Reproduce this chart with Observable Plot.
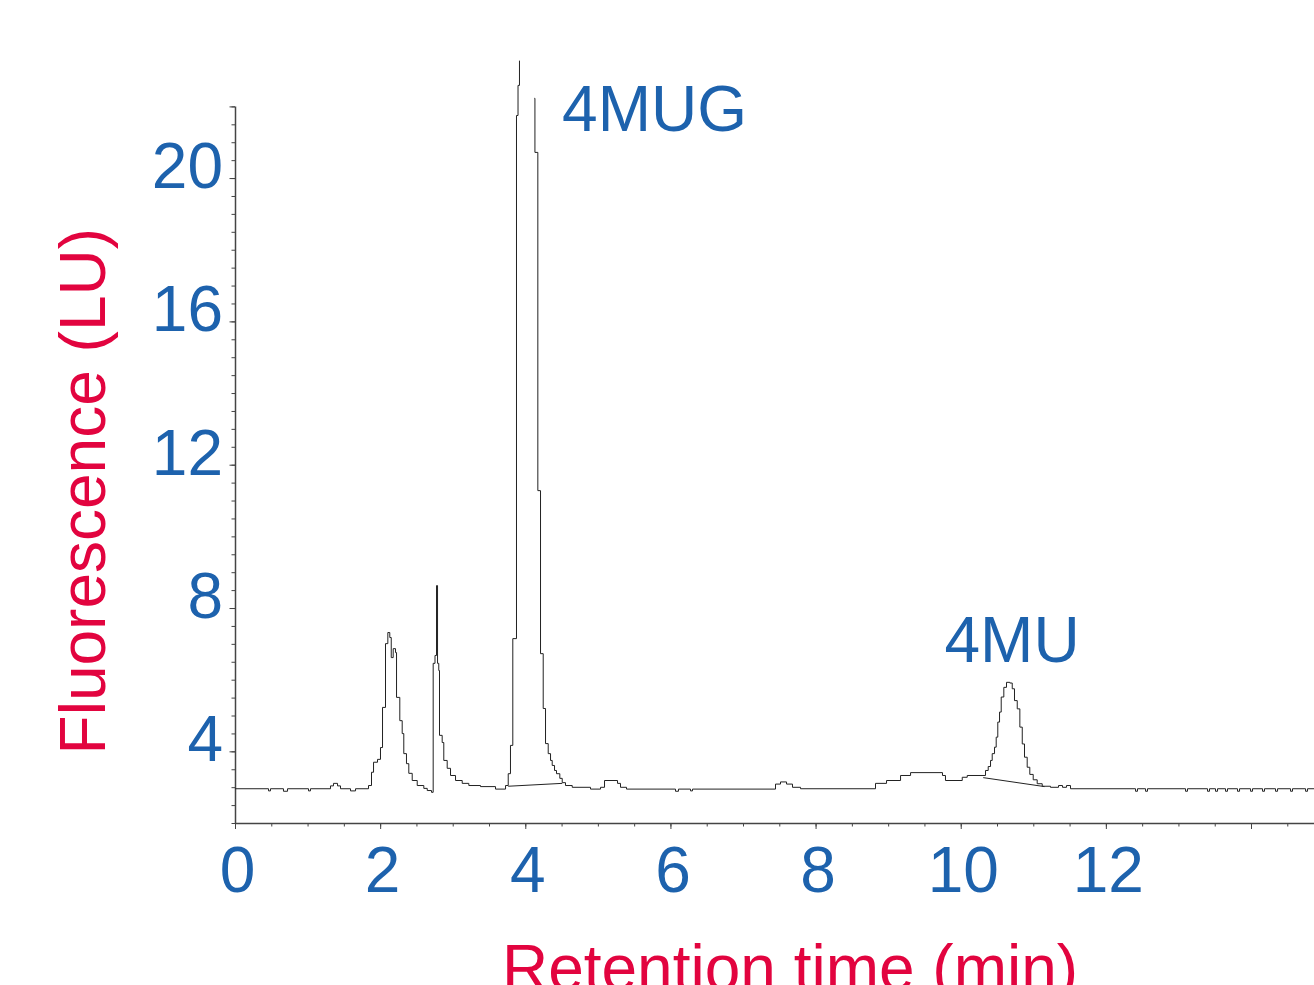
<!DOCTYPE html>
<html>
<head>
<meta charset="utf-8">
<script src="https://cdn.jsdelivr.net/npm/d3@7"></script>
<script src="https://cdn.jsdelivr.net/npm/@observablehq/plot@0.6"></script>
<style>
html, body { margin: 0; padding: 0; background: #fff; overflow: hidden; }
</style>
</head>
<body>
<div id="chart"></div>
<script>
// Chromatogram trace: [retention time (min), fluorescence (LU)]; null = off-scale gap
const trace = [
  [0, 2.97],
  [0.455, 2.91], [0.482, 2.97],
  [0.661, 2.90], [0.717, 2.97],
  [1.006, 2.91], [1.033, 2.97],
  [1.309, 3.05], [1.350, 3.12], [1.406, 3.05], [1.447, 2.97],
  [1.585, 2.91], [1.654, 2.97],
  [1.833, 3.06], [1.874, 3.43], [1.902, 3.71], [1.957, 3.79], [1.998, 4.12], [2.026, 5.24],
  [2.067, 7.02], [2.099, 7.33], [2.126, 7.19], [2.146, 6.63], [2.173, 6.88], [2.205, 6.77],
  [2.219, 5.52], [2.264, 4.87], [2.297, 4.51], [2.319, 3.95], [2.356, 3.67], [2.388, 3.40],
  [2.435, 3.20], [2.504, 3.06], [2.595, 2.98], [2.642, 2.92], [2.701, 2.87],
  [2.724, 6.47], [2.749, 6.69], [2.770, 8.64], [2.784, 6.47], [2.801, 6.27], [2.811, 4.46],
  [2.848, 4.26], [2.870, 3.76], [2.917, 3.54], [2.963, 3.34], [3.032, 3.20], [3.124, 3.12],
  [3.215, 3.06], [3.376, 3.03], [3.583, 2.96], [3.721, 3.06], [3.758, 3.39], [3.789, 4.18],
  [3.821, 7.16], [3.872, 21.76], [3.893, 22.60], [3.913, 23.28],
  [3.92, null],
  [4.124, 22.24], [4.126, 20.73], [4.166, 11.29], [4.203, 6.74], [4.240, 5.21], [4.272, 4.23],
  [4.309, 3.95], [4.341, 3.76], [4.364, 3.62], [4.396, 3.48], [4.423, 3.39], [4.469, 3.26],
  [4.502, 3.14], [4.547, 3.06], [4.640, 3.01], [4.892, 2.96], [5.030, 3.01], [5.085, 3.20],
  [5.264, 3.12], [5.305, 3.01], [5.388, 2.96],
  [6.063, 2.90], [6.104, 2.96], [6.270, 2.91], [6.297, 2.96],
  [7.441, 3.10], [7.510, 3.16], [7.593, 3.10], [7.675, 3.01], [7.786, 2.97],
  [8.819, 3.12], [8.971, 3.20], [9.164, 3.34], [9.302, 3.42], [9.742, 3.34], [9.783, 3.20],
  [10.014, 3.29], [10.083, 3.34],
  [10.335, 3.48], [10.372, 3.59], [10.404, 3.76], [10.427, 3.95], [10.459, 4.13], [10.482, 4.41],
  [10.504, 4.83], [10.528, 5.11], [10.551, 5.53], [10.587, 5.80], [10.624, 5.94], [10.670, 5.92],
  [10.703, 5.76], [10.734, 5.43], [10.772, 5.20], [10.808, 4.69], [10.841, 4.22], [10.872, 3.85],
  [10.909, 3.57], [10.945, 3.37], [10.992, 3.22], [11.047, 3.11], [11.116, 3.04], [11.230, 3.01],
  [11.341, 3.06], [11.396, 3.01], [11.451, 3.06], [11.506, 2.97],
  [12.402, 2.90], [12.429, 2.97], [12.540, 2.90], [12.567, 2.97], [13.091, 2.90], [13.118, 2.97],
  [13.394, 2.90], [13.421, 2.97], [13.504, 2.90], [13.532, 2.97], [13.642, 2.90], [13.669, 2.97],
  [13.807, 2.90], [13.835, 2.97], [13.987, 2.90], [14.014, 2.97], [14.152, 2.90], [14.179, 2.97],
  [14.331, 2.90], [14.359, 2.97], [14.538, 2.90], [14.565, 2.97], [14.745, 2.90], [14.772, 2.97],
  [14.868, 2.97]
];

// Integration baselines under the two named peaks
const baselineStartT = [3.758, 10.303];
const baselineStartV = [3.04, 3.28];
const baselineEndT = [4.502, 11.148];
const baselineEndV = [3.12, 3.03];

// Peak annotations
const peakNames = ["4MUG", "4MU"];
const peakLabelT = [4.50, 9.77];
const peakLabelV = [21.34, 6.52];

// Axes
const xMajorTicks = [0, 2, 4, 6, 8, 10, 12, 14];
const xTickLabels = [0, 2, 4, 6, 8, 10, 12];
const yMajorTicks = [4, 8, 12, 16, 20, 22];
const yTickLabels = [4, 8, 12, 16, 20];
const xTitle = "Retention time (min)";
const yTitle = "Fluorescence (LU)";

const blue = "#1d62ad";
const red = "#e2043f";
const axisColor = "#444";

const rows = trace.map(([t, v]) => ({t, v: v == null ? NaN : v}));
const baselines = baselineStartT.map((t, i) => ({x1: t, y1: baselineStartV[i], x2: baselineEndT[i], y2: baselineEndV[i]}));
const labels = peakNames.map((name, i) => ({name, t: peakLabelT[i], v: peakLabelV[i]}));

const xMinor = d3.range(0, 14.51, 0.5);
const yMinor = d3.range(2, 22.01, 0.5);

const chart = Plot.plot({
  width: 1314,
  height: 985,
  marginLeft: 235,
  marginRight: 0,
  marginTop: 106.4,
  marginBottom: 162,
  x: {domain: [0, 14.868]},
  y: {domain: [2, 22]},
  style: {fontFamily: "'Liberation Sans', Arial, sans-serif", background: "#fff"},
  marks: [
    // tick marks (no text)
    Plot.axisX(xMinor, {tickSize: 3.5, tickFormat: () => "", stroke: axisColor, label: null}),
    Plot.axisX(xMajorTicks, {tickSize: 6, tickFormat: () => "", stroke: axisColor, label: null}),
    Plot.axisY(yMinor, {tickSize: 3.5, tickFormat: () => "", stroke: axisColor, label: null}),
    Plot.axisY(yMajorTicks, {tickSize: 5.5, tickFormat: () => "", stroke: axisColor, label: null}),
    // tick labels (no tick marks)
    Plot.axisX(xTickLabels, {
      tickSize: 0, tickPadding: 23, fill: blue, fontSize: 64, dx: 2,
      tickFormat: d => String(d), label: null
    }),
    Plot.axisY(yTickLabels, {
      tickSize: 0, tickPadding: 12.5, fill: blue, fontSize: 64, dy: -11,
      tickFormat: d => String(d), label: null
    }),
    Plot.ruleY([2], {stroke: axisColor, strokeWidth: 1.5}),
    Plot.ruleX([0], {y1: 2, y2: 22, stroke: axisColor, strokeWidth: 1.5}),
    Plot.link(baselines, {x1: "x1", y1: "y1", x2: "x2", y2: "y2", stroke: "#222", strokeWidth: 1}),
    Plot.line(rows, {x: "t", y: "v", curve: "step-after", stroke: "#222", strokeWidth: 1}),
    Plot.text(labels, {x: "t", y: "v", text: "name", textAnchor: "start", lineAnchor: "bottom", fontSize: 64, fill: blue}),
    Plot.text([yTitle], {frameAnchor: "left", rotate: -90, dx: -131, dy: 26, textAnchor: "middle", lineAnchor: "bottom", fontSize: 64, fill: red}),
    Plot.text([xTitle], {frameAnchor: "bottom", dx: 15, dy: 166, textAnchor: "middle", lineAnchor: "bottom", fontSize: 64, fill: red})
  ]
});
document.getElementById("chart").appendChild(chart);
</script>
</body>
</html>
